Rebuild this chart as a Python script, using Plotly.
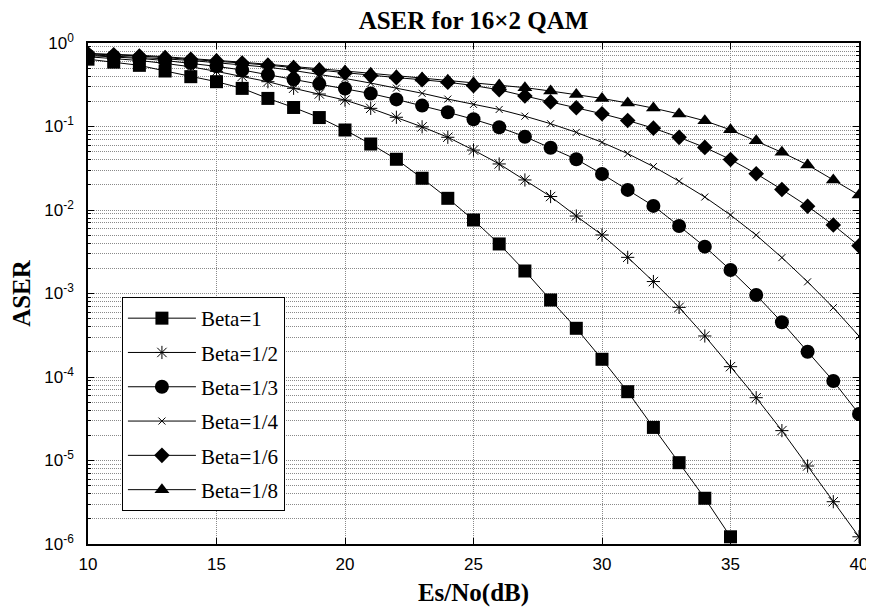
import plotly.graph_objects as go

# ---------------- data ----------------
snr_db = list(range(10, 41))

aser_beta_1 = [0.640, 0.590, 0.540, 0.462, 0.395, 0.344, 0.286, 0.217, 0.169, 0.128,
               0.0908, 0.0617, 0.0405, 0.0240, 0.0138, 0.00759, 0.00392, 0.00186, 8.36e-4, 3.83e-4,
               1.63e-4, 6.67e-5, 2.49e-5, 9.42e-6, 3.53e-6, 1.22e-6]
aser_beta_1_2 = [0.684, 0.653, 0.617, 0.569, 0.519, 0.457, 0.398, 0.344, 0.287, 0.245,
                 0.207, 0.165, 0.129, 0.0991, 0.0743, 0.0522, 0.0356, 0.0229, 0.0145, 0.00847,
                 0.00502, 0.00271, 0.00139, 6.82e-4, 3.10e-4, 1.33e-4, 5.65e-5, 2.28e-5, 8.59e-6, 3.21e-6,
                 1.22e-6]
aser_beta_1_3 = [0.708, 0.684, 0.653, 0.617, 0.575, 0.525, 0.475, 0.417, 0.367, 0.324,
                 0.285, 0.248, 0.211, 0.178, 0.148, 0.122, 0.0979, 0.0755, 0.0557, 0.0405,
                 0.0270, 0.0174, 0.0112, 0.00643, 0.00364, 0.00191, 9.59e-4, 4.52e-4, 2.01e-4, 8.95e-5,
                 3.61e-5]
aser_beta_1_4 = [0.724, 0.700, 0.676, 0.646, 0.617, 0.582, 0.550, 0.513, 0.468, 0.422,
                 0.376, 0.331, 0.288, 0.250, 0.213, 0.184, 0.160, 0.133, 0.108, 0.0851,
                 0.0646, 0.0473, 0.0331, 0.0221, 0.0143, 0.00871, 0.00501, 0.00269, 0.00138, 6.76e-4,
                 3.09e-4]
aser_beta_1_6 = [0.741, 0.724, 0.700, 0.668, 0.638, 0.610, 0.575, 0.543, 0.507, 0.473,
                 0.437, 0.407, 0.385, 0.363, 0.339, 0.309, 0.275, 0.232, 0.197, 0.168,
                 0.142, 0.118, 0.0955, 0.0741, 0.0562, 0.0403, 0.0272, 0.0176, 0.0111, 0.00661,
                 0.00372]
aser_beta_1_8 = [0.750, 0.733, 0.713, 0.684, 0.653, 0.624, 0.589, 0.556, 0.525, 0.495,
                 0.462, 0.434, 0.406, 0.381, 0.357, 0.335, 0.314, 0.292, 0.266, 0.242,
                 0.217, 0.191, 0.166, 0.141, 0.117, 0.0912, 0.0676, 0.0490, 0.0347, 0.0229,
                 0.0151]

series_names = ["Beta=1", "Beta=1/2", "Beta=1/3", "Beta=1/4", "Beta=1/6", "Beta=1/8"]
series_values = [aser_beta_1, aser_beta_1_2, aser_beta_1_3, aser_beta_1_4, aser_beta_1_6, aser_beta_1_8]

x_tick_vals = [10, 15, 20, 25, 30, 35, 40]
y_tick_vals = [1e-6, 1e-5, 1e-4, 1e-3, 1e-2, 1e-1, 1]
y_tick_text = ["10<sup>-6</sup>", "10<sup>-5</sup>", "10<sup>-4</sup>", "10<sup>-3</sup>",
               "10<sup>-2</sup>", "10<sup>-1</sup>", "10<sup>0</sup>"]
y_minor_vals = [k * 10.0 ** d for d in range(-6, 0) for k in range(2, 10)]

# ---------------- styles ----------------
marker_styles = [
    dict(symbol="square", size=13, color="black"),
    dict(symbol="asterisk-open", size=11, color="black", line=dict(width=1, color="black")),
    dict(symbol="circle", size=14, color="black"),
    dict(symbol="x-thin-open", size=7, color="black", line=dict(width=1, color="black")),
    dict(symbol="diamond", size=12, color="black"),
    dict(symbol="triangle-up", size=13, color="black"),
]

fig = go.Figure()
for i, (name, vals) in enumerate(zip(series_names, series_values)):
    fig.add_trace(go.Scatter(
        x=snr_db[:len(vals)], y=vals, name=name, mode="lines+markers",
        line=dict(color="black", width=1),
        marker=marker_styles[i],
        legendgroup=f"g{i}",
    ))

grid_col = "#8a8a8a"
tick_font = dict(family="Liberation Sans, Arial, sans-serif", size=17, color="black")
label_font = dict(family="Liberation Serif, Times New Roman, serif", size=25, color="black", weight="bold")

fig.update_xaxes(
    range=[10, 40], tickvals=x_tick_vals, ticks="inside", ticklen=6, tickcolor="black",
    showline=True, linecolor="black", linewidth=1.5, mirror="ticks",
    showgrid=True, gridcolor=grid_col, griddash="1px,1px", gridwidth=1, zeroline=False,
    tickfont=tick_font, ticklabelstandoff=4, automargin=False,
    title=dict(text="Es/No(dB)", font=label_font, standoff=10),
)
fig.update_yaxes(
    type="log", range=[-6, 0], tickvals=y_tick_vals, ticktext=y_tick_text,
    ticks="inside", ticklen=6, tickcolor="black",
    showline=True, linecolor="black", linewidth=1.5, mirror="ticks",
    showgrid=True, gridcolor=grid_col, griddash="1px,1px", gridwidth=1, zeroline=False,
    tickfont=tick_font, ticklabelstandoff=9, automargin=False,
    minor=dict(tickvals=y_minor_vals, ticks="inside", ticklen=3, tickcolor="black",
               showgrid=True, gridcolor=grid_col, griddash="1px,1px", gridwidth=1),
    title=dict(text="ASER", font=label_font, standoff=8),
)

# the page body has an 8px margin, so the figure is sized to fit the 874x610 window
fig.update_layout(
    width=866, height=602,
    margin=dict(l=80, r=15, t=35, b=66, autoexpand=False),
    paper_bgcolor="white", plot_bgcolor="white",
    title=dict(text="ASER for 16×2 QAM", font=label_font, x=0.5, xref="paper",
               y=0.995, yref="container", yanchor="top"),
    legend=dict(x=0.044, y=0.493, xanchor="left", yanchor="top",
                bgcolor="white", bordercolor="black", borderwidth=1,
                font=dict(family="Liberation Serif, Times New Roman, serif", size=21, color="black"),
                tracegroupgap=4, itemwidth=68),
    showlegend=True,
)

fig.write_html("out.html")
